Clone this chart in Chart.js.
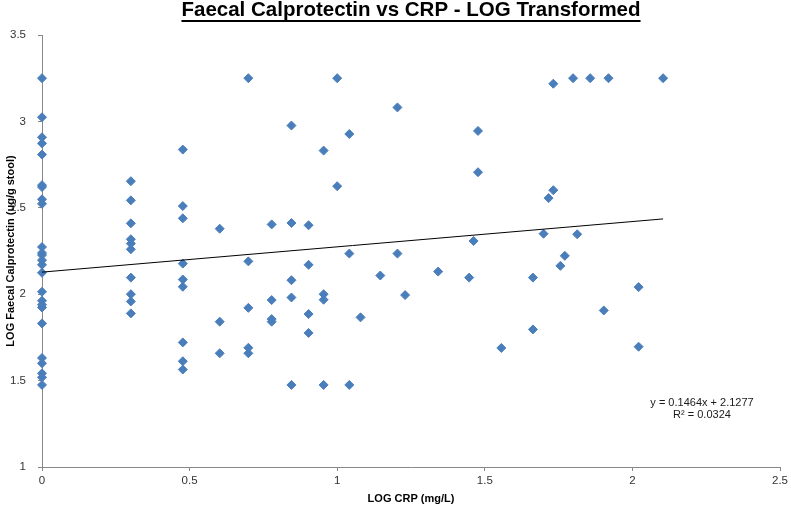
<!DOCTYPE html>
<html>
<head>
<meta charset="utf-8">
<script src="https://cdn.jsdelivr.net/npm/chart.js@4/dist/chart.umd.min.js"></script>
<style>
  html, body { margin: 0; padding: 0; background: #ffffff; }
  #wrap { width: 791px; height: 506px; position: relative; }
</style>
</head>
<body>
<div id="wrap"><canvas id="c" width="791" height="506"></canvas></div>
<script>
// ---- data ----
const logCrp = [
  0,0,0,0,0,0,0,0,0,0,0,0,0,0,0,0,0,0,0,0,0,0,0,0,0,
  0.301,0.301,0.301,0.301,0.301,0.301,0.301,0.301,0.301,0.301,
  0.477,0.477,0.477,0.477,0.477,0.477,0.477,0.477,0.477,
  0.602,0.602,0.602,
  0.699,0.699,0.699,0.699,0.699,
  0.778,0.778,0.778,0.778,
  0.845,0.845,0.845,0.845,0.845,
  0.903,0.903,0.903,0.903,
  0.954,0.954,0.954,0.954,
  1.0,1.0,
  1.041,1.041,1.041,
  1.079,
  1.146,
  1.204,1.204,
  1.230,
  1.342,
  1.447,
  1.462,
  1.477,1.477,
  1.556,
  1.663,1.663,
  1.699,
  1.716,
  1.732,1.732,
  1.756,
  1.771,
  1.799,
  1.813,
  1.857,
  1.903,
  1.919,
  2.021,2.021,
  2.104
];
const logCalpro = [
  3.25,3.024,2.908,2.873,2.808,2.631,2.62,2.549,2.523,2.273,2.239,2.227,2.197,2.17,2.124,2.014,1.962,1.939,1.923,1.831,1.631,1.6,1.542,1.519,1.475,
  2.654,2.543,2.41,2.318,2.293,2.26,2.096,2.0,1.958,1.889,
  2.837,2.51,2.439,2.177,2.085,2.043,1.721,1.612,1.564,
  2.379,1.841,1.658,
  3.25,2.19,1.921,1.69,1.658,
  2.404,1.966,1.856,1.841,
  2.976,2.412,2.081,1.981,1.475,
  2.399,2.17,1.885,1.776,
  2.831,2.0,1.968,1.475,
  3.25,2.625,
  2.927,2.235,1.475,
  1.866,
  2.108,
  3.081,2.235,
  1.995,
  2.131,
  2.096,
  2.308,
  2.945,2.706,
  1.689,
  2.096,1.796,
  2.35,
  2.556,
  3.218,2.602,
  2.164,
  2.222,
  3.25,
  2.347,
  3.25,
  1.906,
  3.25,
  2.041,1.696,
  3.25
];
const trendSlope = 0.1464;
const trendIntercept = 2.1277;
const trendR2 = 0.0324;
const xTickValues = [0, 0.5, 1, 1.5, 2, 2.5];
const xTickLabels = ['0', '0.5', '1', '1.5', '2', '2.5'];
const yTickValues = [1, 1.5, 2, 2.5, 3, 3.5];
const yTickLabels = ['1', '1.5', '2', '2.5', '3', '3.5'];
const titleText = 'Faecal Calprotectin vs CRP - LOG Transformed';
const xTitle = 'LOG CRP (mg/L)';
const yTitle = 'LOG Faecal Calprotectin (ug/g stool)';

// ---- build chart ----
const FONT = "'Liberation Sans', Arial, Helvetica, sans-serif";
const TITLE_SIZE = 20.5;
const points = logCrp.map((x, i) => ({ x: x, y: logCalpro[i] }));
const xMaxData = Math.max.apply(null, logCrp);
const trend = [
  { x: 0, y: trendIntercept },
  { x: xMaxData, y: trendIntercept + trendSlope * xMaxData }
];

const titleUnderline = {
  id: 'titleUnderline',
  afterDraw(chart) {
    const tb = chart.titleBlock;
    if (!tb) return;
    const ctx = chart.ctx;
    ctx.save();
    ctx.font = 'bold ' + TITLE_SIZE + 'px ' + FONT;
    const w = ctx.measureText(titleText).width;
    const cx = (tb.left + tb.right) / 2;
    ctx.fillStyle = '#000';
    ctx.fillRect(cx - w / 2, 20, w, 2);
    ctx.restore();
  }
};

const equationLabel = {
  id: 'equationLabel',
  afterDraw(chart) {
    const ctx = chart.ctx;
    ctx.save();
    ctx.font = '11px ' + FONT;
    ctx.fillStyle = '#1a1a1a';
    ctx.textAlign = 'center';
    ctx.textBaseline = 'middle';
    const s = (v) => (Math.round(v * 10000) / 10000).toFixed(4);
    ctx.fillText('y = ' + s(trendSlope) + 'x + ' + s(trendIntercept), 702, 403);
    ctx.fillText('R\u00B2 = ' + s(trendR2), 702, 415);
    ctx.restore();
  }
};

new Chart(document.getElementById('c'), {
  type: 'scatter',
  data: {
    datasets: [
      {
        label: 'LOG Faecal Calprotectin',
        data: points,
        pointStyle: 'rectRot',
        pointRadius: 4.5,
        pointBorderWidth: 1,
        backgroundColor: '#4A7EBB',
        borderColor: '#4A7EBB',
        clip: false,
        order: 1
      },
      {
        label: 'Linear trend',
        data: trend,
        showLine: true,
        borderColor: '#000000',
        borderWidth: 1,
        pointRadius: 0,
        fill: false,
        order: 0
      }
    ]
  },
  options: {
    responsive: false,
    animation: false,
    layout: { padding: { left: 0, right: 10, top: 0, bottom: 0 } },
    plugins: {
      legend: { display: false },
      tooltip: { enabled: false },
      title: {
        display: true,
        text: titleText,
        fullSize: false,
        color: '#000',
        font: { family: FONT, size: TITLE_SIZE, weight: 'bold', lineHeight: 1 },
        padding: { top: 0, bottom: 14.5 }
      }
    },
    scales: {
      x: {
        type: 'linear',
        min: 0, max: 2.5,
        afterBuildTicks: (s) => { s.ticks = xTickValues.map(v => ({ value: v })); },
        afterFit: (s) => { s.height = 39; },
        ticks: {
          padding: 3,
          color: '#333',
          font: { family: FONT, size: 11.5 },
          callback: (v) => xTickLabels[xTickValues.indexOf(v)]
        },
        grid: { display: true, drawOnChartArea: false, drawTicks: true, tickLength: 4, color: '#888' },
        border: { display: true, color: '#888', width: 1 },
        title: {
          display: true, text: xTitle, color: '#000',
          font: { family: FONT, size: 11, weight: 'bold' },
          padding: { top: 0, bottom: 0 }
        }
      },
      y: {
        type: 'linear',
        min: 1, max: 3.5,
        afterBuildTicks: (s) => { s.ticks = yTickValues.map(v => ({ value: v })); },
        afterFit: (s) => { s.width = 42; },
        ticks: {
          padding: 12,
          color: '#333',
          font: { family: FONT, size: 11.5 },
          callback: (v) => yTickLabels[yTickValues.indexOf(v)]
        },
        grid: { display: true, drawOnChartArea: false, drawTicks: true, tickLength: 4, color: '#888' },
        border: { display: true, color: '#888', width: 1 },
        title: {
          display: true, text: yTitle, color: '#000',
          font: { family: FONT, size: 11, weight: 'bold' },
          padding: { top: 4, bottom: 0 }
        }
      }
    }
  },
  plugins: [titleUnderline, equationLabel]
});
</script>
</body>
</html>
